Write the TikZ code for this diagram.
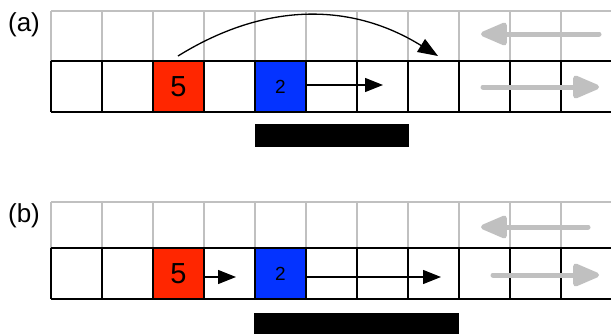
\documentclass[tikz,border=0pt]{standalone}
\usepackage{fontspec}
\setmainfont{Liberation Sans}
\usetikzlibrary{arrows.meta}
\definecolor{gridgray}{HTML}{C0C0C0}
\definecolor{ogred}{HTML}{FF2600}
\definecolor{ogblue}{HTML}{0433FF}
\definecolor{arrgray}{HTML}{C0C0C0}
\tikzset{
  grayline/.style={draw=gridgray, line width=1.4pt},
  blackline/.style={draw=black, line width=1.8pt},
  cellred/.style={fill=ogred, draw=none, minimum width=51pt, inner sep=0pt, font=\fontsize{29}{29}\selectfont},
  cellblue/.style={fill=ogblue, draw=none, minimum width=51pt, inner sep=0pt, font=\fontsize{19}{19}\selectfont},
  movearrow/.style={draw=black, line width=1.2pt, -{Triangle[length=18pt,width=14pt]}},
  jumparrow/.style={draw=black, line width=1.3pt, -{Triangle[length=20pt,width=15pt]}},
  dirarrow/.style={draw=arrgray, line width=5pt, line cap=round, -{Triangle[length=30pt,width=24pt,round=false]}},
  bar/.style={fill=black, draw=none},
  panellabel/.style={font=\fontsize{26}{26}\selectfont, inner sep=0pt}
}
\begin{document}
\begin{tikzpicture}[x=1pt,y=-1pt]
\useasboundingbox (0,0) rectangle (611,333);
% ---------- panel (a) ----------
\node[panellabel] (la) at (24,25) {(a)};
\node[cellred, minimum height=51pt] (ra) at (178.5,86.5) {5};
\node[cellblue, minimum height=51pt] (ba) at (280.5,86.5) {2};
\draw[grayline] (51,11) -- (611,11);
\foreach \x in {51,102,...,561} \draw[grayline] (\x,11) -- (\x,61);
\draw[blackline] (51,61) -- (611,61);
\draw[blackline] (51,112) -- (611,112);
\foreach \x in {51,102,...,561} \draw[blackline] (\x,61) -- (\x,112);
\coordinate (ja) at (178,56);
\coordinate (jb) at (438,56);
\draw[jumparrow] (ja) .. controls (265,2) and (351,2) .. (jb);
\coordinate (ma) at (383,85);
\draw[movearrow] (ba.east |- ma) -- (ma);
\coordinate (ga1) at (599,34);
\coordinate (ga2) at (481,34);
\draw[dirarrow] (ga1) -- (ga2);
\coordinate (ga3) at (483,87);
\coordinate (ga4) at (599,87);
\draw[dirarrow] (ga3) -- (ga4);
\node[bar, minimum width=154pt, minimum height=23pt, inner sep=0pt] (bara) at (332,135.5) {};
% ---------- panel (b) ----------
\node[panellabel] (lb) at (24,216) {(b)};
\node[cellred, minimum height=51pt] (rb) at (178.5,273.5) {5};
\node[cellblue, minimum height=51pt] (bb) at (280.5,273.5) {2};
\draw[grayline] (51,202) -- (611,202);
\foreach \x in {51,102,...,561} \draw[grayline] (\x,202) -- (\x,248);
\draw[blackline] (51,248) -- (611,248);
\draw[blackline] (51,299) -- (611,299);
\foreach \x in {51,102,...,561} \draw[blackline] (\x,248) -- (\x,299);
\coordinate (mb1) at (236,277);
\draw[movearrow] (rb.east |- mb1) -- (mb1);
\coordinate (mb2) at (441,277);
\draw[movearrow] (bb.east |- mb2) -- (mb2);
\coordinate (gb1) at (588,227);
\coordinate (gb2) at (481,227);
\draw[dirarrow] (gb1) -- (gb2);
\coordinate (gb3) at (493,275);
\coordinate (gb4) at (599,275);
\draw[dirarrow] (gb3) -- (gb4);
\node[bar, minimum width=205pt, minimum height=21pt, inner sep=0pt] (barb) at (356.5,323.5) {};
\end{tikzpicture}
\end{document}
